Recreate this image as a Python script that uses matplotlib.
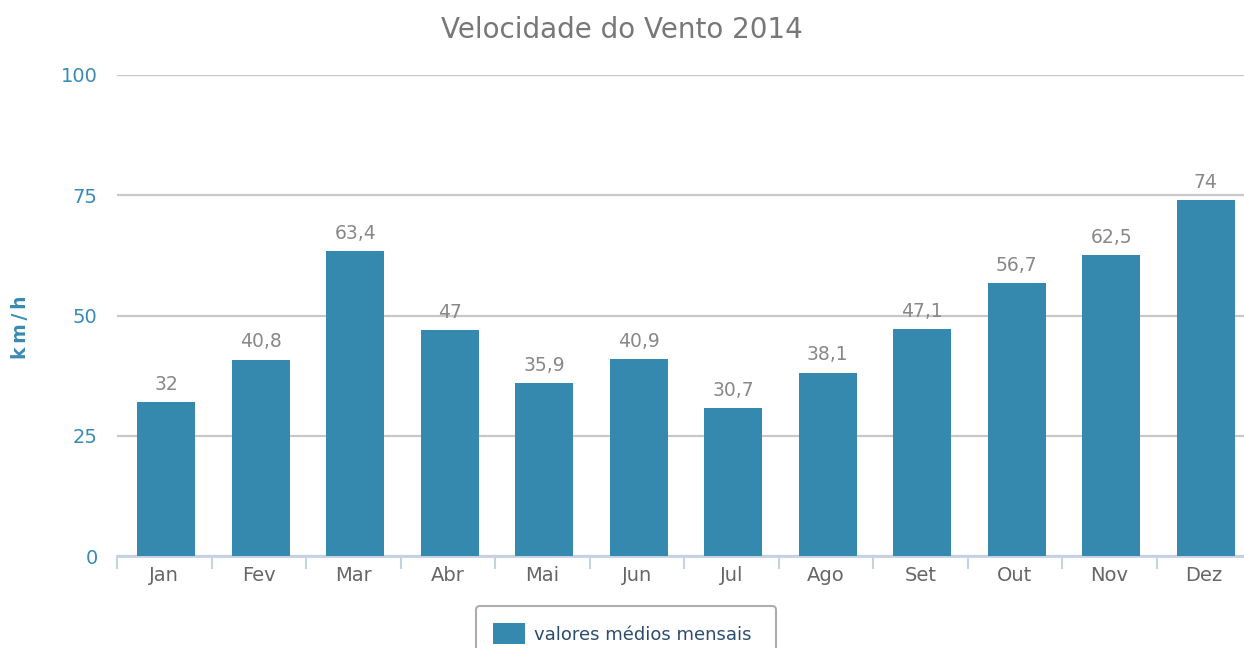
import matplotlib.pyplot as plt
import numpy as np

# Monthly mean wind speed (km/h), 2014
meses = ["Jan", "Fev", "Mar", "Abr", "Mai", "Jun", "Jul", "Ago", "Set", "Out", "Nov", "Dez"]
velocidade = [32, 40.8, 63.4, 47, 35.9, 40.9, 30.7, 38.1, 47.1, 56.7, 62.5, 74]
rotulos = ["32", "40,8", "63,4", "47", "35,9", "40,9", "30,7", "38,1", "47,1", "56,7", "62,5", "74"]
yticks = [0, 25, 50, 75, 100]

cor = "#3588ae"

fig = plt.figure(figsize=(12.44, 6.48), dpi=100)
ax = fig.add_axes([117 / 1244, 92 / 648, 1134 / 1244, (556 - 75) / 648])

x = np.arange(len(meses))
bars = ax.bar(x + 0.02, velocidade, width=0.615, color=cor, zorder=3)

# labels on top of bars
for xi, v, t in zip(x, velocidade, rotulos):
    ax.annotate(t, (xi + 0.02, v), xytext=(0, 6), textcoords="offset points",
                ha="center", va="bottom", fontsize=13.5, color="#888888")

ax.set_xlim(-0.5, len(meses) - 0.5)
ax.set_ylim(0, 100)
ax.set_yticks(yticks)
ax.set_yticklabels([str(t) for t in yticks], color="#3a8ab3", fontsize=14)
ax.yaxis.grid(True, color="#c8c8c8", linewidth=1.6, zorder=0)
ax.tick_params(axis="y", length=0, pad=14)

# category labels centred, ticks on category boundaries
ax.set_xticks(x)
ax.set_xticklabels(meses, color="#666666", fontsize=14)
ax.tick_params(axis="x", which="major", length=0, pad=7)
ax.set_xticks(np.arange(-0.5, len(meses) + 0.5, 1), minor=True)
ax.tick_params(axis="x", which="minor", length=9, width=1.5, color="#c4d2e2")

for s in ["top", "right", "left"]:
    ax.spines[s].set_visible(False)
ax.spines["bottom"].set_color("#c4d2e2")
ax.spines["bottom"].set_linewidth(2)

ax.set_ylabel("k\u2009m\u2009/\u2009h", color="#3a8ab3", fontsize=13.5, fontweight="bold")
ax.yaxis.set_label_coords(-0.077, 0.475)

fig.text(0.5, 0.953, "Velocidade do Vento 2014", ha="center", va="center",
         fontsize=20, color="#777777")

leg = ax.legend([bars[0]], ["valores médios mensais\u2009\u2009"], loc="upper center",
                bbox_to_anchor=(0.449, -0.104), frameon=True, fontsize=13,
                handlelength=1.75, handleheight=1.4, handletextpad=0.5,
                borderpad=0.95, borderaxespad=0, fancybox=True)
leg.get_frame().set_edgecolor("#999999")
leg.get_frame().set_linewidth(1.5)
for t in leg.get_texts():
    t.set_color("#2c4b6e")

fig.savefig("out.png", dpi=100)
